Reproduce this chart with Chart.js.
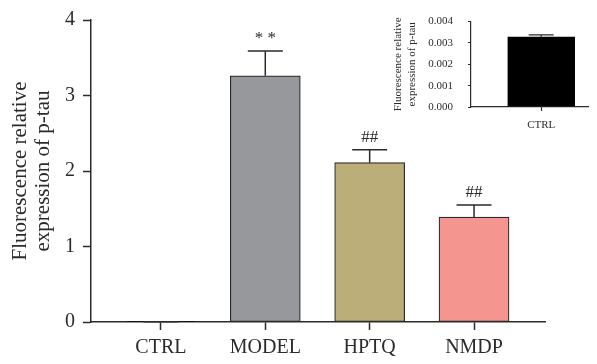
<!DOCTYPE html>
<html>
<head>
<meta charset="utf-8">
<script src="https://cdn.jsdelivr.net/npm/chart.js@4"></script>
<style>
  body { margin: 0; background: #fff; }
  #wrap { position: relative; width: 597px; height: 364px; }
  #main { position: absolute; left: 0; top: 0; }
  #inset { position: absolute; left: 380px; top: 0; }
</style>
</head>
<body>
<div id="wrap">
  <canvas id="main" width="597" height="364"></canvas>
  <canvas id="inset" width="217" height="140"></canvas>
</div>
<script>
// main panel
const categories = ['CTRL', 'MODEL', 'HPTQ', 'NMDP'];
const means = [0.0033, 3.26, 2.11, 1.39];
const sems = [0.0001, 0.33, 0.17, 0.16];
const marks = ['', '* *', '##', '##'];
const barColors = ['#000000', '#97989c', '#bbae78', '#f4958f'];
const yTicks = [0, 1, 2, 3, 4];

// inset panel (CTRL only, zoomed)
const insetCategories = ['CTRL'];
const insetMeans = [0.00329];
const insetSems = [0.00009];
const insetTicks = [0, 0.001, 0.002, 0.003, 0.004];

const SERIF = "'Liberation Serif', 'DejaVu Serif', serif";
const INK = '#2b2b2b';

// draws SEM whiskers (upward only) and significance marks
const errorBars = {
    id: 'errorBars',
    afterDatasetsDraw(chart, args, opts) {
        const { ctx, scales: { x, y } } = chart;
        ctx.save();
        ctx.strokeStyle = INK;
        ctx.lineWidth = opts.lineWidth;
        opts.means.forEach((m, i) => {
            const cx = x.getPixelForValue(i);
            const base = y.getPixelForValue(m);
            const top = y.getPixelForValue(m + opts.sems[i]);
            ctx.beginPath();
            ctx.moveTo(cx, base);
            ctx.lineTo(cx, top);
            ctx.moveTo(cx - opts.cap / 2, top);
            ctx.lineTo(cx + opts.cap / 2, top);
            ctx.stroke();
            if (opts.marks && opts.marks[i]) {
                ctx.fillStyle = INK;
                ctx.font = '17px ' + SERIF;
                ctx.textAlign = 'center';
                ctx.textBaseline = 'middle';
                ctx.fillText(opts.marks[i], cx, top - 12);
            }
        });
        ctx.restore();
    }
};

function fixedTicks(values) {
    return scale => { scale.ticks = values.map(v => ({ value: v })); };
}

new Chart(document.getElementById('main'), {
    type: 'bar',
    data: {
        datasets: [{
            data: means.map((m, i) => ({ x: i, y: m })),
            backgroundColor: barColors,
            borderColor: INK,
            borderWidth: 1.2,
            borderSkipped: false,
            barThickness: 70
        }]
    },
    options: {
        responsive: false,
        animation: false,
        layout: { padding: { top: 20, right: 52, left: 0, bottom: 0 } },
        plugins: {
            legend: { display: false },
            tooltip: { enabled: false },
            errorBars: { means: means, sems: sems, marks: marks, cap: 35, lineWidth: 1.5 }
        },
        scales: {
            x: {
                type: 'linear',
                min: -0.67,
                max: 3.68,
                offset: false,
                afterBuildTicks: fixedTicks([0, 1, 2, 3]),
                afterFit: s => { s.height = 42; },
                border: { color: INK, width: 1.5 },
                grid: { display: true, drawOnChartArea: false, offset: false, tickLength: 8, tickColor: INK, tickWidth: 1.5 },
                ticks: {
                    padding: 6,
                    color: INK,
                    font: { family: SERIF, size: 20 },
                    callback: v => categories[v]
                }
            },
            y: {
                min: 0,
                max: 4,
                afterBuildTicks: fixedTicks(yTicks),
                afterFit: s => { s.width = 91; },
                border: { color: INK, width: 1.5 },
                grid: { display: true, drawOnChartArea: false, tickLength: 8, tickColor: INK, tickWidth: 1.5 },
                ticks: { padding: 8, color: INK, font: { family: SERIF, size: 20 } },
                title: {
                    display: true,
                    text: ['Fluorescence relative', 'expression of p-tau'],
                    color: INK,
                    font: { family: SERIF, size: 21, lineHeight: 1.1 },
                    padding: { top: 9, bottom: 0 }
                }
            }
        }
    },
    plugins: [errorBars]
});

new Chart(document.getElementById('inset'), {
    type: 'bar',
    data: {
        datasets: [{
            data: insetMeans.map((m, i) => ({ x: i, y: m })),
            backgroundColor: '#000000',
            borderColor: '#000000',
            borderWidth: 1,
            barThickness: 67
        }]
    },
    options: {
        responsive: false,
        animation: false,
        layout: { padding: { top: 17, right: 9, left: 0, bottom: 0 } },
        plugins: {
            legend: { display: false },
            tooltip: { enabled: false },
            errorBars: { means: insetMeans, sems: insetSems, marks: null, cap: 25, lineWidth: 1.2 }
        },
        scales: {
            x: {
                type: 'linear',
                min: -0.6,
                max: 0.4,
                offset: false,
                afterBuildTicks: fixedTicks([0]),
                afterFit: s => { s.height = 33; },
                border: { color: INK, width: 1.2 },
                grid: { display: true, drawOnChartArea: false, offset: false, tickLength: 4, tickColor: INK, tickWidth: 1.2 },
                ticks: {
                    padding: 8,
                    color: INK,
                    font: { family: SERIF, size: 11 },
                    callback: v => insetCategories[v]
                }
            },
            y: {
                min: 0,
                max: 0.004,
                afterBuildTicks: fixedTicks(insetTicks),
                afterFit: s => { s.width = 91; },
                border: { color: INK, width: 1.2 },
                grid: { display: true, drawOnChartArea: false, tickLength: 3, tickColor: INK, tickWidth: 1.2 },
                ticks: {
                    padding: 15,
                    color: INK,
                    font: { family: SERIF, size: 11 },
                    callback: v => v.toFixed(3)
                },
                title: {
                    display: true,
                    text: ['Fluorescence relative', 'expression of p-tau'],
                    color: INK,
                    font: { family: SERIF, size: 11, lineHeight: 1.3 },
                    padding: { top: 11, bottom: 0 }
                }
            }
        }
    },
    plugins: [errorBars]
});
</script>
</body>
</html>
